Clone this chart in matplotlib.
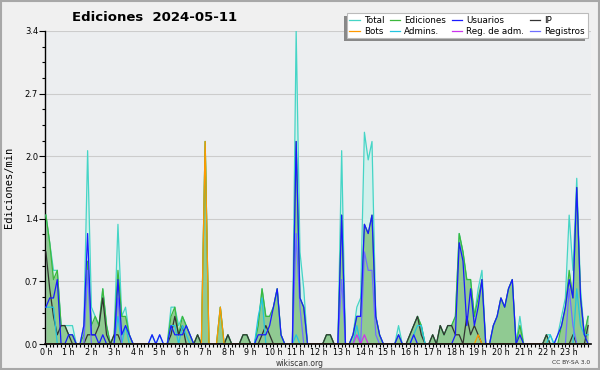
import matplotlib
matplotlib.use("Agg")
import matplotlib.pyplot as plt
import numpy as np
from matplotlib.patches import Rectangle
from matplotlib.ticker import FixedLocator, MultipleLocator

# values per 10-minute slot (edits/min), one row per hour
total = [
    1.4, 1.1, 0.8, 0.8, 0.2, 0.2,   # 0 h
    0.2, 0.2, 0.0, 0.0, 0.2, 2.1,   # 1 h
    0.4, 0.3, 0.2, 0.6, 0.2, 0.0,   # 2 h
    0.1, 1.3, 0.3, 0.4, 0.1, 0.0,   # 3 h
    0.0, 0.0, 0.0, 0.0, 0.1, 0.0,   # 4 h
    0.1, 0.0, 0.0, 0.4, 0.4, 0.2,   # 5 h
    0.3, 0.2, 0.1, 0.0, 0.1, 0.0,   # 6 h
    2.2, 0.0, 0.0, 0.0, 0.4, 0.0,   # 7 h
    0.1, 0.0, 0.0, 0.0, 0.1, 0.1,   # 8 h
    0.0, 0.0, 0.2, 0.6, 0.3, 0.3,   # 9 h
    0.4, 0.6, 0.1, 0.0, 0.0, 0.0,   # 10 h
    3.4, 1.0, 0.6, 0.0, 0.0, 0.0,   # 11 h
    0.0, 0.0, 0.1, 0.1, 0.0, 0.0,   # 12 h
    2.1, 0.0, 0.0, 0.1, 0.4, 0.5,   # 13 h
    2.3, 2.0, 2.2, 0.3, 0.1, 0.0,   # 14 h
    0.0, 0.0, 0.0, 0.2, 0.0, 0.0,   # 15 h
    0.1, 0.2, 0.3, 0.2, 0.0, 0.0,   # 16 h
    0.1, 0.0, 0.2, 0.1, 0.2, 0.2,   # 17 h
    0.3, 1.2, 1.0, 0.7, 0.7, 0.3,   # 18 h
    0.6, 0.8, 0.0, 0.0, 0.2, 0.3,   # 19 h
    0.5, 0.4, 0.6, 0.7, 0.0, 0.3,   # 20 h
    0.0, 0.0, 0.0, 0.0, 0.0, 0.0,   # 21 h
    0.1, 0.1, 0.0, 0.1, 0.3, 0.5,   # 22 h
    1.4, 0.8, 1.8, 0.6, 0.1, 0.3,   # 23 h
]

ediciones = [
    1.4, 1.1, 0.7, 0.8, 0.2, 0.2,
    0.1, 0.1, 0.0, 0.0, 0.1, 0.9,
    0.2, 0.3, 0.2, 0.6, 0.2, 0.0,
    0.1, 0.8, 0.3, 0.3, 0.1, 0.0,
    0.0, 0.0, 0.0, 0.0, 0.0, 0.0,
    0.0, 0.0, 0.0, 0.3, 0.4, 0.1,
    0.3, 0.2, 0.1, 0.0, 0.1, 0.0,
    2.2, 0.0, 0.0, 0.0, 0.4, 0.0,
    0.1, 0.0, 0.0, 0.0, 0.1, 0.1,
    0.0, 0.0, 0.2, 0.6, 0.3, 0.3,
    0.4, 0.6, 0.1, 0.0, 0.0, 0.0,
    2.2, 0.5, 0.4, 0.0, 0.0, 0.0,
    0.0, 0.0, 0.1, 0.1, 0.0, 0.0,
    1.4, 0.0, 0.0, 0.1, 0.3, 0.3,
    1.3, 1.2, 1.4, 0.3, 0.1, 0.0,
    0.0, 0.0, 0.0, 0.1, 0.0, 0.0,
    0.1, 0.2, 0.3, 0.2, 0.0, 0.0,
    0.1, 0.0, 0.2, 0.1, 0.2, 0.2,
    0.3, 1.2, 1.0, 0.7, 0.7, 0.3,
    0.5, 0.7, 0.0, 0.0, 0.2, 0.3,
    0.5, 0.4, 0.6, 0.7, 0.0, 0.2,
    0.0, 0.0, 0.0, 0.0, 0.0, 0.0,
    0.1, 0.0, 0.0, 0.0, 0.2, 0.4,
    0.8, 0.5, 1.7, 0.5, 0.1, 0.3,
]

usuarios = [
    0.4, 0.5, 0.5, 0.7, 0.0, 0.0,
    0.1, 0.1, 0.0, 0.0, 0.2, 1.2,
    0.1, 0.1, 0.0, 0.1, 0.0, 0.0,
    0.0, 0.7, 0.1, 0.2, 0.1, 0.0,
    0.0, 0.0, 0.0, 0.0, 0.1, 0.0,
    0.1, 0.0, 0.0, 0.2, 0.1, 0.1,
    0.1, 0.2, 0.1, 0.0, 0.0, 0.0,
    0.0, 0.0, 0.0, 0.0, 0.0, 0.0,
    0.0, 0.0, 0.0, 0.0, 0.0, 0.0,
    0.0, 0.0, 0.1, 0.1, 0.1, 0.2,
    0.4, 0.6, 0.1, 0.0, 0.0, 0.0,
    2.2, 0.5, 0.4, 0.0, 0.0, 0.0,
    0.0, 0.0, 0.0, 0.0, 0.0, 0.0,
    1.4, 0.0, 0.0, 0.1, 0.3, 0.3,
    1.3, 1.2, 1.4, 0.3, 0.1, 0.0,
    0.0, 0.0, 0.0, 0.1, 0.0, 0.0,
    0.0, 0.1, 0.0, 0.0, 0.0, 0.0,
    0.0, 0.0, 0.0, 0.0, 0.0, 0.0,
    0.1, 1.1, 0.9, 0.2, 0.6, 0.2,
    0.4, 0.7, 0.0, 0.0, 0.2, 0.3,
    0.5, 0.4, 0.6, 0.7, 0.0, 0.1,
    0.0, 0.0, 0.0, 0.0, 0.0, 0.0,
    0.0, 0.0, 0.0, 0.1, 0.2, 0.4,
    0.7, 0.5, 1.7, 0.5, 0.1, 0.0,
]

ip = [
    1.0, 0.6, 0.3, 0.1, 0.2, 0.2,
    0.1, 0.0, 0.0, 0.0, 0.0, 0.1,
    0.1, 0.1, 0.2, 0.5, 0.1, 0.0,
    0.1, 0.1, 0.0, 0.0, 0.0, 0.0,
    0.0, 0.0, 0.0, 0.0, 0.0, 0.0,
    0.0, 0.0, 0.0, 0.1, 0.3, 0.1,
    0.2, 0.0, 0.0, 0.0, 0.1, 0.0,
    0.0, 0.0, 0.0, 0.0, 0.0, 0.0,
    0.1, 0.0, 0.0, 0.0, 0.1, 0.1,
    0.0, 0.0, 0.0, 0.1, 0.2, 0.1,
    0.0, 0.0, 0.0, 0.0, 0.0, 0.0,
    0.0, 0.0, 0.0, 0.0, 0.0, 0.0,
    0.0, 0.0, 0.1, 0.1, 0.0, 0.0,
    0.0, 0.0, 0.0, 0.0, 0.0, 0.0,
    0.0, 0.0, 0.0, 0.0, 0.0, 0.0,
    0.0, 0.0, 0.0, 0.0, 0.0, 0.0,
    0.1, 0.2, 0.3, 0.1, 0.0, 0.0,
    0.1, 0.0, 0.2, 0.1, 0.2, 0.2,
    0.1, 0.1, 0.0, 0.3, 0.1, 0.2,
    0.1, 0.0, 0.0, 0.0, 0.0, 0.0,
    0.0, 0.0, 0.0, 0.0, 0.0, 0.0,
    0.0, 0.0, 0.0, 0.0, 0.0, 0.0,
    0.1, 0.0, 0.0, 0.0, 0.0, 0.0,
    0.0, 0.1, 0.0, 0.0, 0.0, 0.2,
]

bots = [0.0] * 144
bots[42] = 2.2
bots[46] = 0.4
bots[114] = 0.1

admins = [0.0] * 144
for i, v in [(0, 0.4), (1, 0.4), (2, 0.4), (19, 0.3), (21, 0.2), (33, 0.2),
             (34, 0.2), (36, 0.2), (37, 0.1), (56, 0.3), (57, 0.5), (66, 0.1),
             (82, 0.2), (97, 0.1), (98, 0.2), (99, 0.2), (133, 0.1),
             (140, 0.6), (141, 0.2), (142, 0.1), (143, 0.1)]:
    admins[i] = v

reg_adm = [0.0] * 144
reg_adm[82] = 0.1
reg_adm[84] = 0.1

registros = [0.0] * 144
for i, v in [(11, 0.8), (19, 0.5), (66, 1.2), (67, 0.4), (78, 0.7),
             (84, 1.0), (85, 0.8), (86, 0.8), (87, 0.1), (138, 0.6), (139, 0.2)]:
    registros[i] = v

hours = np.arange(len(total)) / 6.0

C_TOTAL = "#45d5c6"
C_EDIC = "#3cb83c"
C_USU = "#1a1aff"
C_IP = "#333333"
C_BOTS = "#ff9900"
C_ADM = "#22c4e0"
C_REGADM = "#cc33ee"
C_REG = "#6f6fff"

fig = plt.figure(figsize=(6, 3.7), dpi=100, facecolor="#f0f0f0")
ax = fig.add_axes([45 / 600, 26 / 370, 546 / 600, 313 / 370])
ax.set_facecolor("#eceef0")

ax.fill_between(hours, total, color="#d2f0ec", lw=0, zorder=1)
ax.fill_between(hours, ediciones, color="#8dc88d", lw=0, alpha=0.95, zorder=2)

lw = 0.9
l_total, = ax.plot(hours, total, color=C_TOTAL, lw=lw, zorder=3)
l_edic, = ax.plot(hours, ediciones, color=C_EDIC, lw=lw, zorder=4)
l_ip, = ax.plot(hours, ip, color=C_IP, lw=lw, zorder=5)
l_adm, = ax.plot(hours, admins, color=C_ADM, lw=lw, zorder=5)
l_reg, = ax.plot(hours, registros, color=C_REG, lw=lw, zorder=6)
l_usu, = ax.plot(hours, usuarios, color=C_USU, lw=lw, zorder=7)
l_regadm, = ax.plot(hours, reg_adm, color=C_REGADM, lw=lw, zorder=7)
l_bots, = ax.plot(hours, bots, color=C_BOTS, lw=lw, zorder=8)

ax.set_xlim(-0.04, 23.96)
ax.set_ylim(0, 3.4)

yt = np.linspace(0, 3.4, 6)
ax.yaxis.set_major_locator(FixedLocator(yt))
ax.set_yticklabels([f"{v:.1f}" for v in yt])
ax.yaxis.set_minor_locator(MultipleLocator(0.17))
ax.xaxis.set_major_locator(FixedLocator(range(24)))
ax.set_xticklabels([f"{h} h" for h in range(24)])
ax.xaxis.set_minor_locator(MultipleLocator(1 / 6))

ax.grid(axis="y", color="#cccccc", lw=0.8, zorder=0)
ax.set_axisbelow(True)
for s in ("top", "right"):
    ax.spines[s].set_visible(False)
ax.spines["left"].set_linewidth(1.0)
ax.spines["bottom"].set_linewidth(1.2)
ax.spines["bottom"].set_zorder(10)

ax.tick_params(axis="x", which="both", length=2.5, width=0.8, pad=0.5, labelsize=5.8)
ax.tick_params(axis="y", which="major", length=4, width=0.8, pad=1, labelsize=6)
ax.tick_params(axis="y", which="minor", length=2.5, width=0.8)

ax.set_ylabel("Ediciones/min", family="DejaVu Sans Mono", fontsize=7.5, labelpad=8)

fig.text(0.258, 0.952, "Ediciones  2024-05-11", ha="center", va="center",
         fontsize=9.5, fontweight="bold")
fig.text(0.5, 0.017, "wikiscan.org", ha="center", va="center", fontsize=5.5, color="#333333")
fig.text(0.984, 0.02, "CC BY-SA 3.0", ha="right", va="center", fontsize=4.3, color="#333333")

handles = [l_total, l_bots, l_edic, l_adm, l_usu, l_regadm, l_ip, l_reg]
labels = ["Total", "Bots", "Ediciones", "Admins.", "Usuarios", "Reg. de adm.", "IP", "Registros"]
leg = fig.legend(handles, labels, ncol=4, loc="upper right",
                 bbox_to_anchor=(592 / 600, 1 - 9 / 370), fontsize=6.3,
                 handlelength=1.2, handletextpad=0.45, columnspacing=0.65,
                 labelspacing=0.2, borderpad=0.3, frameon=True, fancybox=False,
                 edgecolor="#bbbbbb", facecolor="white", framealpha=1)
leg.set_zorder(20)
leg.get_frame().set_linewidth(0.8)

fig.canvas.draw()
bb = leg.get_window_extent().transformed(fig.transFigure.inverted())
dx, dy = 3 / 600, 3 / 370
fig.add_artist(Rectangle((bb.x0 - dx, bb.y0 - dy), bb.width, bb.height,
                         transform=fig.transFigure, facecolor="#888888",
                         edgecolor="none", zorder=19))

fig.add_artist(Rectangle((0.001, 0.002), 0.997, 0.995, transform=fig.transFigure,
                         facecolor="none", edgecolor="#a8a8a8", lw=1.5, zorder=30))

fig.savefig("out.png", dpi=100, facecolor=fig.get_facecolor())
